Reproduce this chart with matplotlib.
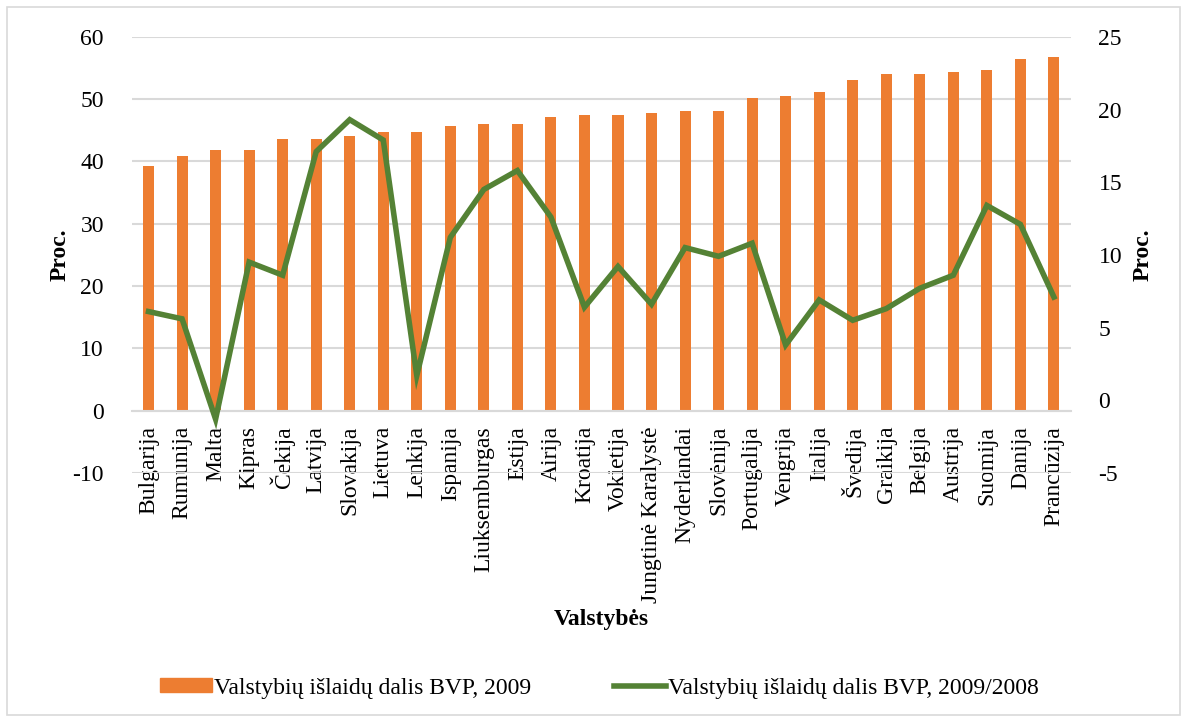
import matplotlib
matplotlib.use("Agg")
import matplotlib.pyplot as plt
from matplotlib.patches import Rectangle, Patch
from matplotlib.lines import Line2D

countries = ["Bulgarija", "Rumunija", "Malta", "Kipras", "Čekija", "Latvija",
             "Slovakija", "Lietuva", "Lenkija", "Ispanija", "Liuksemburgas",
             "Estija", "Airija", "Kroatija", "Vokietija", "Jungtinė Karalystė",
             "Nyderlandai", "Slovėnija", "Portugalija", "Vengrija", "Italija",
             "Švedija", "Graikija", "Belgija", "Austrija", "Suomija", "Danija",
             "Prancūzija"]

share_2009 = [39.3, 40.9, 41.8, 41.8, 43.6, 43.6, 44.0, 44.8, 44.8, 45.7, 46.0,
              46.0, 47.1, 47.5, 47.5, 47.8, 48.1, 48.1, 50.1, 50.5, 51.1, 53.0,
              54.0, 54.1, 54.4, 54.7, 56.4, 56.7]

change_2009_2008 = [6.1, 5.6, -1.3, 9.5, 8.6, 17.1, 19.3, 17.9, 1.7, 11.2, 14.5,
                    15.8, 12.6, 6.4, 9.2, 6.6, 10.5, 9.9, 10.8, 3.8, 6.9, 5.5,
                    6.3, 7.7, 8.6, 13.4, 12.1, 7.1]

orange = "#ED7D31"
green = "#548235"
grid_c = "#D9D9D9"
fs = 17

plt.rcParams["font.family"] = ["Liberation Serif", "DejaVu Serif"]
plt.rcParams["axes.unicode_minus"] = False

fig = plt.figure(figsize=(11.87, 7.22), dpi=100)
ax = fig.add_axes([0.111, 0.345, 0.791, 0.604])
ax2 = ax.twinx()

x = list(range(len(countries)))
ax.bar(x, share_2009, width=0.33, color=orange, zorder=2)
ax2.plot(x, change_2009_2008, color=green, lw=4, solid_joinstyle="miter", zorder=3)

ax.set_xlim(-0.5, len(countries) - 0.5)
ax.set_ylim(-10, 60)
ax.set_yticks(range(-10, 61, 10))
ax2.set_ylim(-5, 25)
ax2.set_yticks(range(-5, 26, 5))

ax.yaxis.grid(True, color=grid_c, lw=1.5, zorder=0)
ax.set_axisbelow(True)

for a in (ax, ax2):
    for s in ("top", "right", "left"):
        a.spines[s].set_visible(False)
ax2.spines["bottom"].set_visible(False)
ax.spines["bottom"].set_position(("data", 0))
ax.spines["bottom"].set_color(grid_c)
ax.spines["bottom"].set_linewidth(1.5)

ax.set_xticks(x)
ax.set_xticklabels(countries, rotation=90, fontsize=fs)
ax.tick_params(axis="x", length=0, pad=11)
ax.tick_params(axis="y", length=0, pad=20, labelsize=fs)
ax2.tick_params(axis="y", length=0, pad=20, labelsize=fs)

fig.text(0.5065, 0.142, "Valstybės", fontsize=fs, fontweight="bold",
         ha="center", va="center")
fig.text(0.051, 0.647, "Proc.", fontsize=fs, fontweight="bold",
         rotation=90, ha="center", va="center")
fig.text(0.963, 0.647, "Proc.", fontsize=fs, fontweight="bold",
         rotation=90, ha="center", va="center")

handles = [Patch(color=orange), Line2D([0], [0], color=green, lw=4)]
labels = ["Valstybių išlaidų dalis BVP, 2009",
          "Valstybių išlaidų dalis BVP, 2009/2008"]
fig.legend(handles, labels, loc="center", bbox_to_anchor=(0.505, 0.047),
           ncol=2, frameon=False, fontsize=fs, handlelength=2.2,
           handleheight=0.5, handletextpad=0.1, columnspacing=3.5)

fig.patches.append(Rectangle((0.006, 0.01), 0.988, 0.98, transform=fig.transFigure,
                             fill=False, edgecolor=grid_c, lw=1.2))

fig.savefig("out.png", dpi=100)
